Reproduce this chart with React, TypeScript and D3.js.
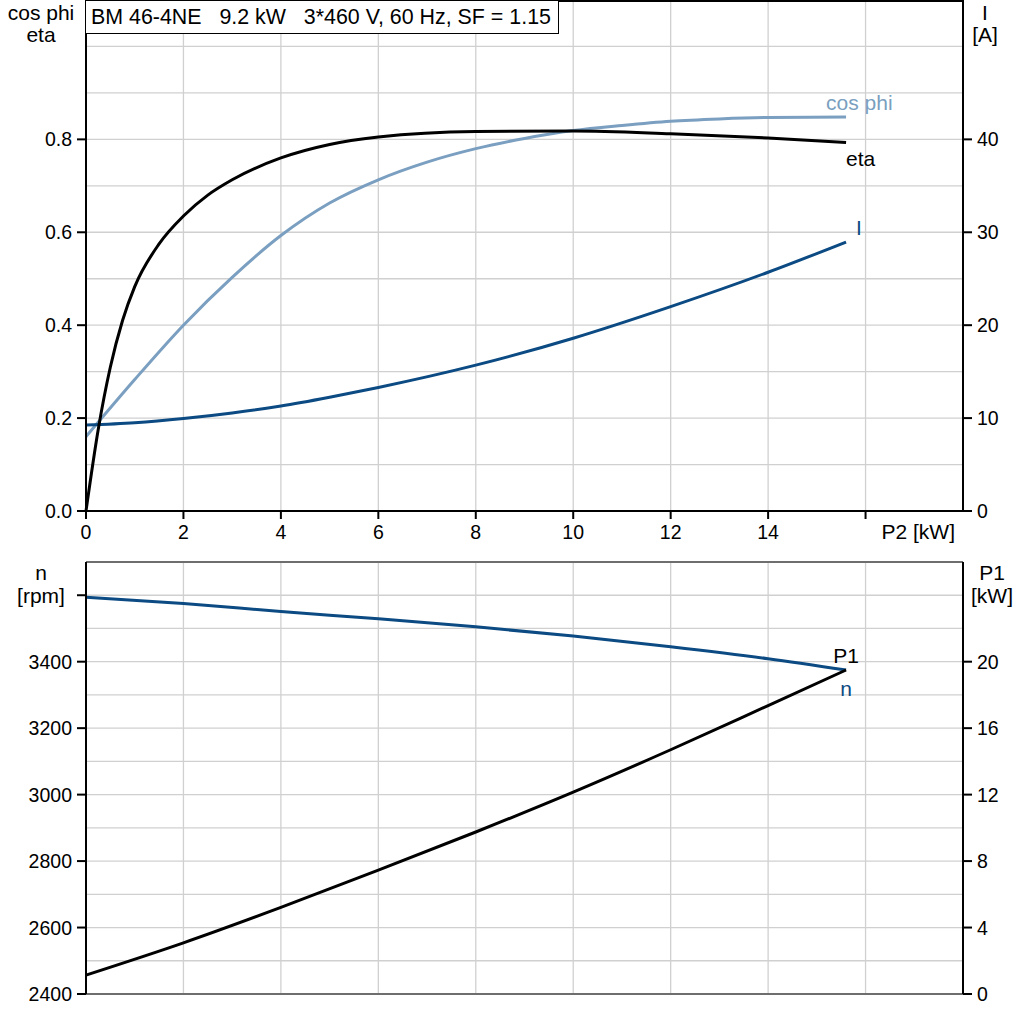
import * as d3 from "d3";

// upper panel (x = P2 [kW])
const etaX = [0, 0.25, 0.5, 0.75, 1, 1.5, 2, 2.5, 3, 4, 5, 6, 8, 10, 12, 14, 15.6];
const etaValues = [0, 0.175, 0.31, 0.41, 0.483, 0.575, 0.635, 0.68, 0.713, 0.76, 0.789, 0.805, 0.817, 0.818, 0.812, 0.803, 0.793];
const cosPhiX = [0, 1, 2, 3, 4, 5, 6, 7, 8, 9, 10, 11, 12, 13, 14, 15.6];
const cosPhiValues = [0.16, 0.283, 0.4, 0.503, 0.593, 0.663, 0.713, 0.751, 0.78, 0.802, 0.819, 0.83, 0.839, 0.844, 0.847, 0.848];
const currentX = [0, 1, 2, 3, 4, 5, 6, 8, 10, 12, 14, 15.6];
const currentValues = [9.25, 9.5, 9.95, 10.55, 11.3, 12.25, 13.3, 15.7, 18.6, 22.0, 25.7, 28.95];

// lower panel
const p2Bottom = [0, 2, 4, 6, 8, 10, 12, 14, 15.6];
const speedValues = [3594, 3575, 3551, 3529, 3505, 3477, 3445, 3409, 3375];
const p1Values = [1.14, 3.08, 5.21, 7.45, 9.75, 12.15, 14.7, 17.36, 19.5];

const xTicks = [0, 2, 4, 6, 8, 10, 12, 14];
const effTicks = [0, 0.2, 0.4, 0.6, 0.8];
const currentTicks = [0, 10, 20, 30, 40];
const speedTicks = [2400, 2600, 2800, 3000, 3200, 3400];
const p1Ticks = [0, 4, 8, 12, 16, 20];

const TITLE = "BM 46-4NE   9.2 kW   3*460 V, 60 Hz, SF = 1.15";

const BLACK = "#000000";
const COS_BLUE = "#7a9fc0";
const DARK_BLUE = "#0b4a82";
const GRID = "#d0d0d0";
const FONT = "'Liberation Sans', Arial, sans-serif";

const LEFT = 86;
const RIGHT = 963;
const TOP1 = 0;
const BOT1 = 511;
const TOP2 = 562;
const BOT2 = 994;

export default function App() {
  const x = d3.scaleLinear().domain([0, 18]).range([LEFT, RIGHT]);
  const yEff = d3.scaleLinear().domain([0, 1.1]).range([BOT1, TOP1]);
  const yCur = d3.scaleLinear().domain([0, 55]).range([BOT1, TOP1]);
  const yN = d3.scaleLinear().domain([2400, 3700]).range([BOT2, TOP2]);
  const yP1 = d3.scaleLinear().domain([0, 26]).range([BOT2, TOP2]);

  const mk = (xs: number[], ys: number[], sy: d3.ScaleLinear<number, number>) =>
    d3
      .line<number>()
      .x((_, i) => x(xs[i]))
      .y((d) => sy(d))
      .curve(d3.curveMonotoneX)(ys) as string;

  const xGrid = d3.range(2, 18, 2);
  const effGrid = d3.range(1, 11).map((d) => d / 10);
  const nGrid = d3.range(2500, 3700, 100);

  const lastX = x(etaX[etaX.length - 1]);
  const lastXb = x(p2Bottom[p2Bottom.length - 1]);

  const textProps = { fontFamily: FONT, fontSize: 21, fill: BLACK };
  const tickProps = { fontFamily: FONT, fontSize: 19.5, fill: BLACK };

  return (
    <div style={{ position: "absolute", left: 0, top: 0 }}>
      <svg width={1024} height={1024} style={{ display: "block", background: "#fff" }}>
        {/* grids */}
        <g stroke={GRID} strokeWidth={1.3}>
          {xGrid.map((v) => (
            <line key={`xg1${v}`} x1={x(v)} x2={x(v)} y1={TOP1} y2={BOT1} />
          ))}
          {effGrid.map((v) => (
            <line key={`yg1${v}`} x1={LEFT} x2={RIGHT} y1={yEff(v)} y2={yEff(v)} />
          ))}
          {xGrid.map((v) => (
            <line key={`xg2${v}`} x1={x(v)} x2={x(v)} y1={TOP2} y2={BOT2} />
          ))}
          {nGrid.map((v) => (
            <line key={`yg2${v}`} x1={LEFT} x2={RIGHT} y1={yN(v)} y2={yN(v)} />
          ))}
        </g>

        {/* upper panel curves */}
        <path d={mk(cosPhiX, cosPhiValues, yEff)} fill="none" stroke={COS_BLUE} strokeWidth={3} />
        <path d={mk(currentX, currentValues, yCur)} fill="none" stroke={DARK_BLUE} strokeWidth={3} />
        <path d={mk(etaX, etaValues, yEff)} fill="none" stroke={BLACK} strokeWidth={3} />

        <text {...textProps} fill={COS_BLUE} x={lastX - 20} y={yEff(cosPhiValues[cosPhiValues.length - 1]) - 7}>
          cos phi
        </text>
        <text {...textProps} x={lastX} y={yEff(etaValues[etaValues.length - 1]) + 23}>
          eta
        </text>
        <text {...textProps} fill={DARK_BLUE} x={lastX + 10} y={yCur(currentValues[currentValues.length - 1]) - 7}>
          I
        </text>

        {/* upper panel frame and axes */}
        <g stroke={BLACK} strokeWidth={2}>
          <line x1={LEFT} x2={RIGHT} y1={TOP1 + 1} y2={TOP1 + 1} />
          <line x1={LEFT} x2={LEFT} y1={TOP1} y2={BOT1} />
          <line x1={RIGHT} x2={RIGHT} y1={TOP1} y2={BOT1} />
          <line x1={LEFT} x2={RIGHT} y1={BOT1} y2={BOT1} />
          {[...xTicks, 16].map((v) => (
            <line key={`xt${v}`} x1={x(v)} x2={x(v)} y1={BOT1} y2={BOT1 + 8} />
          ))}
          {effTicks.map((v) => (
            <line key={`et${v}`} x1={LEFT - 9} x2={LEFT} y1={yEff(v)} y2={yEff(v)} />
          ))}
          {currentTicks.map((v) => (
            <line key={`ct${v}`} x1={RIGHT} x2={RIGHT + 9} y1={yCur(v)} y2={yCur(v)} />
          ))}
        </g>

        {xTicks.map((v) => (
          <text key={`xl${v}`} {...tickProps} x={x(v)} y={BOT1 + 28} textAnchor="middle">
            {v}
          </text>
        ))}
        <text {...textProps} x={955} y={BOT1 + 28} textAnchor="end">
          P2 [kW]
        </text>
        {effTicks.map((v) => (
          <text key={`el${v}`} {...tickProps} x={LEFT - 14} y={yEff(v) + 7} textAnchor="end">
            {v.toFixed(1)}
          </text>
        ))}
        {currentTicks.map((v) => (
          <text key={`cl${v}`} {...tickProps} x={RIGHT + 14} y={yCur(v) + 7}>
            {v}
          </text>
        ))}
        <text {...textProps} x={41} y={20} textAnchor="middle">cos phi</text>
        <text {...textProps} x={41} y={42} textAnchor="middle">eta</text>
        <text {...textProps} x={985} y={20} textAnchor="middle">I</text>
        <text {...textProps} x={985} y={42} textAnchor="middle">[A]</text>

        {/* title box */}
        <rect x={85.5} y={0.5} width={473} height={33} fill="#fff" stroke={BLACK} strokeWidth={1} />
        <text {...textProps} fontSize={21.4} x={91} y={24} style={{ whiteSpace: "pre" }}>
          {TITLE}
        </text>

        {/* lower panel curves */}
        <path d={mk(p2Bottom, speedValues, yN)} fill="none" stroke={DARK_BLUE} strokeWidth={3} />
        <path d={mk(p2Bottom, p1Values, yP1)} fill="none" stroke={BLACK} strokeWidth={3} />
        <text {...textProps} x={lastXb} y={yP1(p1Values[p1Values.length - 1]) - 7} textAnchor="middle">
          P1
        </text>
        <text {...textProps} fill={DARK_BLUE} x={lastXb} y={yN(speedValues[speedValues.length - 1]) + 26} textAnchor="middle">
          n
        </text>

        {/* lower panel frame and axes */}
        <g stroke="#6e6e6e" strokeWidth={2}>
          <line x1={LEFT} x2={RIGHT} y1={TOP2} y2={TOP2} />
          <line x1={LEFT} x2={RIGHT} y1={BOT2} y2={BOT2} />
        </g>
        <g stroke={BLACK} strokeWidth={2}>
          <line x1={LEFT} x2={LEFT} y1={TOP2} y2={BOT2} />
          <line x1={RIGHT} x2={RIGHT} y1={TOP2} y2={BOT2} />
          {[...speedTicks, 3600].map((v) => (
            <line key={`nt${v}`} x1={LEFT - 9} x2={LEFT} y1={yN(v)} y2={yN(v)} />
          ))}
          {p1Ticks.map((v) => (
            <line key={`pt${v}`} x1={RIGHT} x2={RIGHT + 9} y1={yP1(v)} y2={yP1(v)} />
          ))}
        </g>
        {speedTicks.map((v) => (
          <text key={`nl${v}`} {...tickProps} x={LEFT - 14} y={yN(v) + 7} textAnchor="end">
            {v}
          </text>
        ))}
        {p1Ticks.map((v) => (
          <text key={`pl${v}`} {...tickProps} x={RIGHT + 14} y={yP1(v) + 7}>
            {v}
          </text>
        ))}
        <text {...textProps} x={41} y={580} textAnchor="middle">n</text>
        <text {...textProps} x={41} y={603} textAnchor="middle">[rpm]</text>
        <text {...textProps} x={992} y={580} textAnchor="middle">P1</text>
        <text {...textProps} x={992} y={603} textAnchor="middle">[kW]</text>
      </svg>
    </div>
  );
}
